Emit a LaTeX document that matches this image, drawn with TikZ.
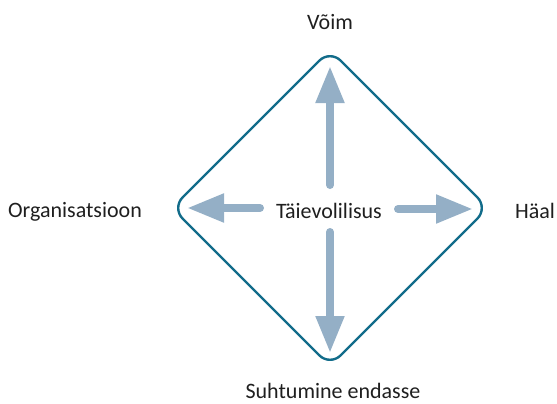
\documentclass[tikz,border=0pt]{standalone}
\usepackage{fontspec}
\setmainfont{Carlito}
\usetikzlibrary{arrows.meta}
\definecolor{teal1}{RGB}{18,108,138}
\definecolor{arr}{RGB}{148,175,198}
\tikzset{
  lbl/.style={font=\fontsize{22}{26}\selectfont, text=black!88, inner sep=0pt, anchor=base},
  bigarrow/.style={draw=arr, line width=8pt, line cap=round, -{Triangle[length=37pt,width=27pt]}},
  frame/.style={draw=teal1, line width=2.4pt, rounded corners=15pt}
}
\begin{document}
\begin{tikzpicture}[x=1pt,y=-1pt]
\useasboundingbox (0,0) rectangle (557,404);
\coordinate (T) at (330,50);
\coordinate (R) at (488,208);
\coordinate (B) at (330,366);
\coordinate (L) at (172,208);
\draw[frame] (T) -- (R) -- (B) -- (L) -- cycle;
\node[lbl] (c) at (329,218) {Täievolilisus};
\node[lbl] (top) at (330,30) {Võim};
\node[lbl] (left) at (75,217) {Organisatsioon};
\node[lbl] (right) at (535,218) {Häal};
\node[lbl] (bot) at (333,398) {Suhtumine endasse};
\coordinate (us) at (330,185); \coordinate (ue) at (330,66);
\coordinate (ds) at (330,232); \coordinate (de) at (330,353);
\coordinate (ls) at (260,208); \coordinate (le) at (187,208);
\coordinate (rs) at (398,209); \coordinate (re) at (473,209);
\draw[bigarrow] (us) -- (ue);
\draw[bigarrow] (ds) -- (de);
\draw[bigarrow] (ls) -- (le);
\draw[bigarrow] (rs) -- (re);
\end{tikzpicture}
\end{document}
